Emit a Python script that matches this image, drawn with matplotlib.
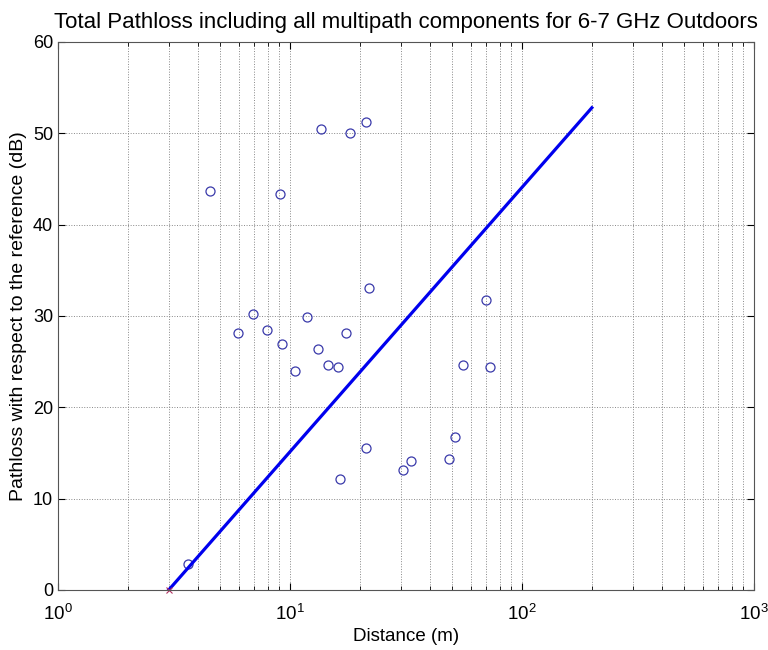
import numpy as np
import matplotlib
matplotlib.use("Agg")
import matplotlib.pyplot as plt

# measured points (distance in m, pathloss in dB)
dist = [4.54, 9.06, 13.6, 18.2, 21.3, 21.8, 6.9, 11.8, 5.97, 7.98, 17.5,
        9.21, 13.25, 14.58, 16.05, 10.47, 69.7, 55.8, 72.6, 3.62, 21.3,
        16.4, 30.8, 33.3, 48.6, 51.4]
ploss = [43.7, 43.4, 50.5, 50.0, 51.2, 33.1, 30.2, 29.9, 28.1, 28.5, 28.1,
         26.9, 26.4, 24.6, 24.4, 24.0, 31.8, 24.6, 24.4, 2.9, 15.6,
         12.2, 13.1, 14.1, 14.3, 16.8]

# reference point and fitted line
ref_x, ref_y = [3], [0]
fit_x = [3, 200]
fit_y = [0, 52.8]

plt.rcParams["font.family"] = ["Liberation Sans", "DejaVu Sans"]
plt.rcParams["mathtext.fontset"] = "custom"
plt.rcParams["mathtext.rm"] = "Liberation Sans"
plt.rcParams["mathtext.it"] = "Liberation Sans"

fig = plt.figure(figsize=(7.68, 6.5), dpi=100)
ax = fig.add_axes([58 / 768, 60 / 650, 696 / 768, 548 / 650])

ax.plot(dist, ploss, "o", mfc="none", mec="#3a3aaa", ms=6.5, mew=0.9)
ax.plot(fit_x, fit_y, "-", color="#0000ee", lw=2.3)
ax.plot(ref_x, ref_y, "x", color="#b03060", ms=5, mew=0.8, clip_on=False)

ax.set_xscale("log")
ax.set_xlim(1, 1000)
ax.set_ylim(0, 60)
ax.set_yticks(range(0, 61, 10))

ax.grid(True, which="both", axis="x", ls=":", color="#888888", lw=0.7)
ax.grid(True, which="major", axis="y", ls=":", color="#888888", lw=0.7)
ax.tick_params(which="both", direction="in", top=True, right=True, labelsize=13)
ax.tick_params(which="major", length=5)
ax.tick_params(which="minor", length=3)
ax.tick_params(axis="x", which="major", labelsize=13.5, pad=10)
for s in ax.spines.values():
    s.set_color("#555555")
    s.set_linewidth(0.8)

ax.set_title("Total Pathloss including all multipath components for 6-7 GHz Outdoors",
             fontsize=16, pad=10)
ax.set_xlabel("Distance (m)", fontsize=13.5, labelpad=3)
ax.set_ylabel("Pathloss with respect to the reference (dB)", fontsize=14, labelpad=4)

fig.savefig("out.png", dpi=100)
